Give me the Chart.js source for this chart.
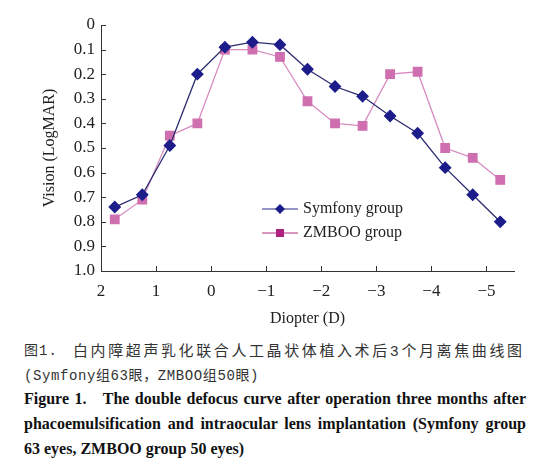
<!DOCTYPE html>
<html lang="zh">
<head>
<meta charset="UTF-8">
<title>Defocus curve</title>
<script src="https://cdn.jsdelivr.net/npm/chart.js"></script>
<style>
  body { margin: 0; background: #fff; width: 560px; height: 466px; overflow: hidden; }
  #wrap { position: relative; width: 560px; height: 330px; }
  .cap { position: absolute; left: 24px; width: 502px; color: #111; white-space: nowrap; }
  .cn { font-family: "Liberation Mono", "Noto Sans CJK SC", monospace; font-size: 14px; color: #333; }
  .en { font-family: "Liberation Serif", "DejaVu Serif", serif; font-weight: bold; font-size: 16px; text-align: justify; text-align-last: justify; white-space: normal; }
</style>
</head>
<body>
<div id="wrap"><canvas id="chart"></canvas></div>
<div class="cap cn" style="top:339px;"><span style="letter-spacing:1px;">图1.</span><span style="position:absolute; left:49px; letter-spacing:2.6px; font-size:15px;">白内障超声乳化联合人工晶状体植入术后3个月离焦曲线图</span></div>
<div class="cap cn" style="top:364px; letter-spacing:0.6px;">(Symfony组63眼，ZMBOO组50眼)</div>
<div class="cap en" style="top:390px;">Figure 1.&nbsp;&nbsp;&nbsp;The double defocus curve after operation three months after</div>
<div class="cap en" style="top:415px;">phacoemulsification and intraocular lens implantation (Symfony group</div>
<div class="cap en" style="top:440px; text-align-last:left;">63 eyes, ZMBOO group 50 eyes)</div>

<script>
// defocus steps (D)
const diopters = [1.75, 1.25, 0.75, 0.25, -0.25, -0.75, -1.25, -1.75, -2.25, -2.75, -3.25, -3.75, -4.25, -4.75, -5.25];
// visual acuity, LogMAR
const symfony = [0.74, 0.69, 0.49, 0.20, 0.09, 0.07, 0.08, 0.18, 0.25, 0.29, 0.37, 0.44, 0.58, 0.69, 0.80];
const zmboo  = [0.79, 0.71, 0.45, 0.40, 0.10, 0.10, 0.13, 0.31, 0.40, 0.41, 0.20, 0.19, 0.50, 0.54, 0.63];
const xTicks = [2, 1, 0, -1, -2, -3, -4, -5];

const serif = "'Liberation Serif', 'DejaVu Serif', serif";

// ticks pointing inwards
const innerTicks = {
  id: 'innerTicks',
  afterDraw(chart) {
    const ctx = chart.ctx, a = chart.chartArea;
    const x = chart.scales.x, y = chart.scales.y;
    ctx.save();
    ctx.strokeStyle = '#333';
    ctx.lineWidth = 1;
    ctx.beginPath();
    y.ticks.forEach(t => {
      const py = Math.round(y.getPixelForValue(t.value)) + 0.5;
      ctx.moveTo(a.left, py); ctx.lineTo(a.left + 5, py);
    });
    x.ticks.forEach(t => {
      const px = Math.round(x.getPixelForValue(t.value)) + 0.5;
      ctx.moveTo(px, a.bottom); ctx.lineTo(px, a.bottom - 5);
    });
    ctx.stroke();
    ctx.restore();
  }
};

// legend inside the plot
const innerLegend = {
  id: 'innerLegend',
  afterDraw(chart) {
    const ctx = chart.ctx;
    const lx = 262, ly = 209, gap = 24;
    ctx.save();
    chart.data.datasets.forEach((ds, i) => {
      const y = ly + i * gap;
      ctx.strokeStyle = ds.legendLine;
      ctx.lineWidth = 1.2;
      ctx.beginPath(); ctx.moveTo(lx, y); ctx.lineTo(lx + 36, y); ctx.stroke();
      ctx.fillStyle = ds.legendMark;
      ctx.beginPath();
      if (ds.pointStyle === 'rectRot') {
        ctx.moveTo(lx + 18, y - 5); ctx.lineTo(lx + 23, y); ctx.lineTo(lx + 18, y + 5); ctx.lineTo(lx + 13, y);
      } else {
        ctx.rect(lx + 14, y - 4, 8, 8);
      }
      ctx.fill();
      ctx.fillStyle = '#222';
      ctx.font = '16px ' + serif;
      ctx.textBaseline = 'middle';
      ctx.fillText(ds.label, lx + 41, y);
    });
    ctx.restore();
  }
};

const chart = new Chart(document.getElementById('chart'), {
  type: 'line',
  data: {
    datasets: [{
      label: 'Symfony group',
      data: diopters.map((d, i) => ({ x: d, y: symfony[i] })),
      borderColor: '#2c2c70',
      backgroundColor: '#1c1c8a',
      pointBackgroundColor: '#1c1c8a',
      pointBorderColor: '#1c1c8a',
      pointStyle: 'rectRot',
      pointRadius: 5.5,
      borderWidth: 1.3,
      legendLine: '#2c2c8a',
      legendMark: '#1c1c8a'
    }, {
      label: 'ZMBOO group',
      data: diopters.map((d, i) => ({ x: d, y: zmboo[i] })),
      borderColor: '#d68cc0',
      backgroundColor: '#cf6fb0',
      pointBackgroundColor: '#cf6fb0',
      pointBorderColor: '#cf6fb0',
      pointStyle: 'rect',
      pointRadius: 6,
      borderWidth: 1.3,
      legendLine: '#b0307f',
      legendMark: '#b0207f'
    }]
  },
  options: {
    responsive: true,
    maintainAspectRatio: false,
    animation: false,
    layout: { padding: { top: 25, right: 46, left: 0, bottom: 0 } },
    plugins: { legend: { display: false }, tooltip: { enabled: false } },
    scales: {
      x: {
        type: 'linear',
        reverse: true,
        min: -5.5,
        max: 2,
        afterBuildTicks: s => { s.ticks = xTicks.map(v => ({ value: v })); },
        afterFit: s => { s.height = 59; },
        border: { display: true, color: '#333', width: 1 },
        grid: { display: false, drawTicks: false },
        ticks: {
          color: '#222',
          font: { family: serif, size: 17 },
          padding: 10,
          callback: v => v > 0 ? String(v) : (v === 0 ? '0' : '\u2212' + Math.abs(v))
        },
        title: { display: true, text: 'Diopter (D)', color: '#222', font: { family: serif, size: 16 }, padding: { top: 0, bottom: 2 } }
      },
      y: {
        reverse: true,
        min: 0,
        max: 1,
        afterFit: s => { s.width = 101; },
        border: { display: true, color: '#333', width: 1 },
        grid: { display: false, drawTicks: false },
        ticks: {
          stepSize: 0.1,
          color: '#222',
          font: { family: serif, size: 17 },
          padding: 6,
          callback: v => v === 0 ? '0' : v.toFixed(1)
        },
        title: { display: true, text: 'Vision (LogMAR)', color: '#222', font: { family: serif, size: 16 }, padding: { top: 40, bottom: 0 } }
      }
    }
  },
  plugins: [innerTicks, innerLegend]
});
</script>
</body>
</html>
